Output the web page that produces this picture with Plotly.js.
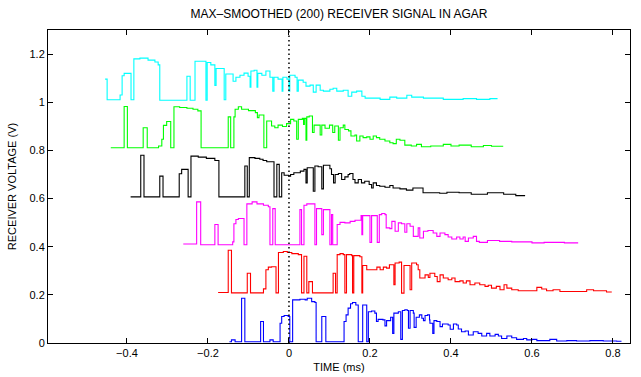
<!DOCTYPE html>
<html><head><meta charset="utf-8">
<script src="https://cdn.plot.ly/plotly-3.0.1.min.js"></script>
<style>html,body{margin:0;padding:0;background:#fff}#chart{width:641px;height:377px}</style>
</head><body><div id="chart"></div>
<script>
// time (ms) and voltage (V) of each max-smoothed trace
const cyanT=[-0.454,-0.449,-0.417,-0.412,-0.407,-0.390,-0.383,-0.368,-0.348,-0.331,-0.323,-0.319,-0.252,-0.244,-0.232,-0.205,-0.202,-0.193,-0.183,-0.180,-0.160,-0.156,-0.138,-0.131,-0.121,-0.111,-0.101,-0.096,-0.094,-0.086,-0.079,-0.077,-0.067,-0.057,-0.047,-0.040,-0.037,-0.027,-0.017,-0.015,-0.005,0.000,0.002,0.015,0.020,0.023,0.035,0.042,0.052,0.060,0.067,0.077,0.085,0.101,0.109,0.118,0.134,0.146,0.155,0.167,0.180,0.188,0.225,0.249,0.266,0.291,0.303,0.332,0.381,0.430,0.463,0.496,0.515];
const cyanV=[1.096,1.010,1.030,1.110,1.120,1.010,1.180,1.183,1.175,1.167,1.155,1.008,1.108,1.008,1.170,1.008,1.165,1.155,1.070,1.140,1.010,1.117,1.087,1.104,1.112,1.121,1.108,1.062,1.130,1.133,1.062,1.120,1.112,1.130,1.104,1.046,1.104,1.096,1.046,1.104,1.096,1.046,1.112,1.104,1.046,1.092,1.083,1.067,1.071,1.042,1.071,1.050,1.046,1.054,1.058,1.046,1.050,1.025,1.042,1.046,1.025,1.017,1.012,1.021,1.017,1.029,1.021,1.017,1.012,1.015,1.012,1.015,1.015];
const greenT=[-0.440,-0.407,-0.399,-0.360,-0.350,-0.322,-0.314,-0.310,-0.302,-0.292,-0.284,-0.270,-0.252,-0.237,-0.225,-0.217,-0.150,-0.144,-0.136,-0.133,-0.125,-0.117,-0.100,-0.083,-0.078,-0.074,-0.062,-0.055,-0.043,-0.035,-0.027,-0.016,-0.006,0.004,0.012,0.019,0.023,0.033,0.036,0.038,0.042,0.044,0.050,0.058,0.062,0.077,0.081,0.089,0.100,0.108,0.113,0.122,0.126,0.134,0.138,0.147,0.153,0.163,0.167,0.175,0.183,0.192,0.200,0.208,0.216,0.224,0.237,0.249,0.257,0.265,0.274,0.286,0.302,0.315,0.327,0.350,0.381,0.400,0.420,0.450,0.480,0.500,0.529];
const greenV=[0.811,0.982,0.811,0.894,0.811,0.818,0.846,0.904,0.920,0.811,0.981,0.978,0.975,0.971,0.964,0.811,0.939,0.811,0.939,0.971,0.981,0.971,0.965,0.957,0.936,0.947,0.811,0.922,0.901,0.894,0.905,0.899,0.911,0.929,0.922,0.846,0.929,0.933,0.908,0.933,0.842,0.939,0.943,0.874,0.905,0.864,0.905,0.892,0.905,0.874,0.901,0.842,0.894,0.905,0.887,0.881,0.860,0.864,0.839,0.860,0.853,0.856,0.846,0.860,0.853,0.846,0.839,0.832,0.828,0.846,0.842,0.822,0.818,0.825,0.815,0.818,0.825,0.818,0.822,0.815,0.820,0.817,0.817];
const blackT=[-0.391,-0.366,-0.358,-0.319,-0.311,-0.271,-0.265,-0.249,-0.242,-0.224,-0.204,-0.183,-0.173,-0.109,-0.103,-0.098,-0.084,-0.072,-0.064,-0.055,-0.037,-0.030,-0.024,-0.018,-0.012,-0.001,0.004,0.012,0.028,0.037,0.042,0.045,0.060,0.064,0.072,0.081,0.085,0.101,0.105,0.110,0.114,0.122,0.130,0.138,0.146,0.150,0.158,0.163,0.171,0.179,0.187,0.198,0.204,0.208,0.216,0.224,0.237,0.249,0.257,0.274,0.290,0.306,0.327,0.331,0.372,0.390,0.420,0.450,0.490,0.530,0.560,0.583];
const blackV=[0.607,0.780,0.607,0.693,0.607,0.703,0.721,0.607,0.776,0.772,0.767,0.758,0.607,0.735,0.607,0.770,0.767,0.763,0.758,0.753,0.607,0.742,0.607,0.707,0.697,0.693,0.700,0.707,0.714,0.721,0.665,0.728,0.630,0.735,0.732,0.640,0.738,0.724,0.700,0.665,0.700,0.704,0.679,0.690,0.700,0.704,0.679,0.665,0.679,0.665,0.672,0.658,0.644,0.665,0.654,0.651,0.647,0.654,0.644,0.640,0.635,0.644,0.644,0.624,0.622,0.626,0.624,0.618,0.624,0.618,0.612,0.612];
const magentaT=[-0.261,-0.228,-0.218,-0.183,-0.175,-0.139,-0.136,-0.131,-0.125,-0.111,-0.104,-0.091,-0.079,-0.063,-0.051,-0.047,-0.040,-0.034,0.027,0.031,0.037,0.044,0.060,0.064,0.068,0.081,0.085,0.101,0.105,0.108,0.119,0.126,0.138,0.151,0.163,0.178,0.180,0.182,0.200,0.204,0.218,0.223,0.229,0.237,0.240,0.249,0.254,0.262,0.270,0.278,0.286,0.291,0.299,0.307,0.319,0.323,0.332,0.343,0.356,0.365,0.373,0.385,0.393,0.402,0.414,0.422,0.430,0.435,0.443,0.455,0.463,0.470,0.490,0.520,0.550,0.600,0.630,0.680,0.714];
const magentaV=[0.411,0.586,0.408,0.492,0.408,0.420,0.495,0.513,0.517,0.408,0.578,0.586,0.578,0.572,0.566,0.408,0.558,0.408,0.554,0.408,0.572,0.578,0.578,0.408,0.558,0.450,0.554,0.408,0.533,0.408,0.492,0.501,0.499,0.505,0.510,0.529,0.450,0.529,0.418,0.529,0.418,0.533,0.538,0.533,0.478,0.475,0.505,0.464,0.499,0.495,0.460,0.495,0.485,0.443,0.478,0.436,0.464,0.467,0.457,0.443,0.457,0.450,0.440,0.432,0.440,0.432,0.440,0.422,0.436,0.443,0.422,0.418,0.426,0.422,0.420,0.416,0.418,0.416,0.416];
const redT=[-0.175,-0.150,-0.142,-0.103,-0.095,-0.063,-0.057,-0.051,-0.043,-0.032,-0.026,-0.014,-0.004,0.007,0.023,0.031,0.037,0.044,0.049,0.058,0.109,0.115,0.119,0.126,0.134,0.138,0.142,0.155,0.157,0.160,0.175,0.180,0.182,0.192,0.217,0.225,0.233,0.241,0.248,0.259,0.262,0.272,0.278,0.284,0.299,0.303,0.315,0.319,0.323,0.336,0.344,0.348,0.360,0.366,0.373,0.381,0.393,0.402,0.410,0.422,0.430,0.438,0.447,0.459,0.471,0.484,0.492,0.500,0.512,0.521,0.531,0.538,0.550,0.566,0.612,0.624,0.636,0.652,0.669,0.735,0.752,0.784,0.797];
const redV=[0.210,0.385,0.208,0.290,0.208,0.225,0.304,0.315,0.317,0.208,0.376,0.380,0.376,0.371,0.367,0.208,0.360,0.208,0.255,0.208,0.290,0.208,0.367,0.371,0.367,0.208,0.367,0.363,0.208,0.363,0.358,0.208,0.322,0.304,0.315,0.304,0.315,0.311,0.325,0.242,0.332,0.336,0.207,0.322,0.221,0.332,0.325,0.304,0.270,0.283,0.272,0.290,0.276,0.255,0.283,0.270,0.263,0.270,0.255,0.258,0.249,0.258,0.242,0.249,0.242,0.235,0.240,0.228,0.235,0.221,0.242,0.228,0.221,0.217,0.231,0.224,0.217,0.221,0.214,0.221,0.217,0.212,0.212];
const blueT=[-0.147,-0.142,-0.133,-0.117,-0.109,-0.070,-0.063,-0.047,-0.039,-0.022,-0.018,-0.012,-0.002,0.002,0.009,0.027,0.040,0.045,0.056,0.064,0.067,0.081,0.091,0.136,0.141,0.146,0.152,0.157,0.165,0.171,0.182,0.190,0.192,0.196,0.204,0.212,0.216,0.220,0.232,0.237,0.241,0.251,0.256,0.259,0.270,0.276,0.280,0.286,0.292,0.295,0.299,0.307,0.309,0.314,0.322,0.328,0.332,0.336,0.342,0.347,0.348,0.355,0.358,0.365,0.373,0.379,0.393,0.398,0.406,0.414,0.418,0.426,0.435,0.443,0.455,0.467,0.476,0.488,0.496,0.509,0.517,0.525,0.538,0.550,0.562,0.579,0.587,0.600,0.612,0.644,0.661,0.686,0.710,0.743,0.776,0.809,0.821];
const blueV=[0.005,0.013,0.005,0.186,0.005,0.089,0.005,0.013,0.005,0.082,0.110,0.114,0.110,0.005,0.179,0.182,0.179,0.186,0.172,0.168,0.005,0.110,0.005,0.089,0.117,0.145,0.163,0.168,0.158,0.005,0.158,0.158,0.005,0.130,0.133,0.124,0.089,0.098,0.096,0.071,0.093,0.107,0.040,0.124,0.130,0.015,0.135,0.138,0.135,0.061,0.135,0.124,0.065,0.107,0.117,0.103,0.093,0.114,0.117,0.096,0.082,0.040,0.093,0.089,0.068,0.079,0.075,0.057,0.079,0.075,0.058,0.047,0.050,0.033,0.047,0.040,0.029,0.040,0.029,0.036,0.029,0.019,0.029,0.022,0.015,0.019,0.013,0.015,0.010,0.015,0.008,0.010,0.008,0.010,0.008,0.007,0.007];

const traceT=[cyanT,greenT,blackT,magentaT,redT,blueT];
const traceV=[cyanV,greenV,blackV,magentaV,redV,blueV];
const traceColors=['#00ffff','#00ff00','#000000','#ff00ff','#ff0000','#0000ff'];

const titleText='MAX\u2013SMOOTHED (200) RECEIVER SIGNAL IN AGAR';
const xTitle='TIME (ms)';
const yTitle='RECEIVER VOLTAGE (V)';

const data=traceT.map((t,i)=>({x:t,y:traceV[i],type:'scatter',mode:'lines',
  line:{color:traceColors[i],width:1.1,shape:'hv'},hoverinfo:'skip'}));

const font={family:'"Liberation Sans", Arial, Helvetica, sans-serif',size:11,color:'#000'};
const axisBase={showline:true,linecolor:'#000',linewidth:1,mirror:'allticks',ticks:'inside',ticklen:5,
  tickcolor:'#000',tickwidth:1,showgrid:false,zeroline:false,tickfont:font};

const layout={width:641,height:377,margin:{l:48,r:11,t:30,b:34},
  paper_bgcolor:'#fff',plot_bgcolor:'#fff',showlegend:false,font:font,
  title:{text:titleText,font:{family:font.family,size:12,color:'#000'},x:0.5,xref:'paper',y:0.963,yref:'container',yanchor:'middle'},
  xaxis:Object.assign({},axisBase,{range:[-0.595,0.842],dtick:0.2,tick0:0,
    title:{text:xTitle,font:font,standoff:5}}),
  yaxis:Object.assign({},axisBase,{range:[0,1.3],dtick:0.2,tick0:0,
    title:{text:yTitle,font:font,standoff:10}}),
  shapes:[{type:'line',xref:'x',yref:'paper',x0:0,x1:0,y0:0,y1:1,line:{color:'#000',width:1.5,dash:'1.5px,3px'}}]
};
Plotly.newPlot('chart',data,layout,{staticPlot:true,displayModeBar:false});
</script></body></html>
